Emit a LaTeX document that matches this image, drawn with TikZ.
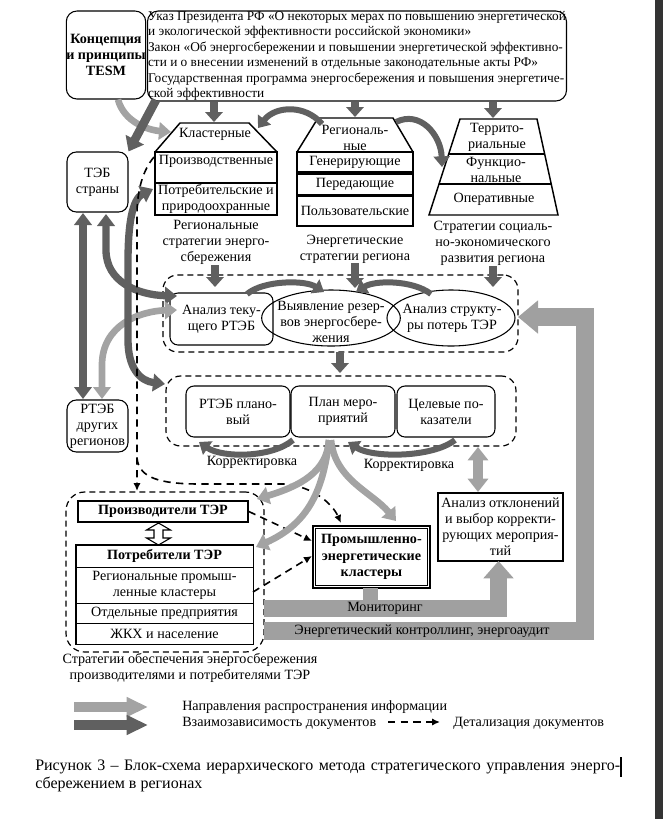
\documentclass[tikz,border=0pt]{standalone}
\usepackage{fontspec}
\setmainfont{Liberation Serif}
\usetikzlibrary{arrows.meta,shapes.geometric}
\definecolor{dg}{RGB}{96,96,96}
\definecolor{lg}{RGB}{163,163,163}
\definecolor{bandc}{RGB}{160,160,160}
\definecolor{stripc}{RGB}{51,51,51}
\begin{document}
\begin{tikzpicture}[x=0.75pt,y=-0.75pt,
  every node/.style={font=\fontsize{10.6}{12}\selectfont, inner sep=0pt, align=center},
  bf/.style={font=\fontsize{10.6}{12}\selectfont\bfseries},
  wh/.style 2 args={minimum width=#1*0.75pt, minimum height=#2*0.75pt},
  rbox/.style={draw, rounded corners=6pt, line width=0.8pt},
  sbox/.style={draw, line width=1.2pt},
  thinbox/.style={draw, line width=0.6pt},
  grp/.style={draw, rounded corners=11pt, line width=0.9pt, dash pattern=on 4.5pt off 3pt},
  outline/.style={draw, line width=1.1pt, line join=miter},
  darr/.style={draw=dg, line width=6pt, -{Triangle[length=7.5pt,width=13pt]}},
  darc/.style={draw=dg, line width=4.5pt, -{Triangle[length=8pt,width=12pt]}},
  dcurve/.style={draw=dg, line width=5.5pt, {Triangle[length=9pt,width=13pt]}-{Triangle[length=9pt,width=13pt]}},
  lcurve/.style={draw=lg, line width=5pt, -{Triangle[length=9pt,width=13pt]}},
  lcurve2/.style={draw=lg, line width=5pt, {Triangle[length=9pt,width=13pt]}-{Triangle[length=9pt,width=13pt]}},
  dasharr/.style={draw=black, line width=1.2pt, dash pattern=on 5.5pt off 4pt, -{Latex[length=6pt,width=5.5pt]}},
  legtxt/.style={anchor=west},
]
\useasboundingbox (0,0) rectangle (663,819);
\fill[stripc] (655,0) rectangle (663,819);

% ---------- top ----------
\node[rbox, wh={78}{88}, rounded corners=8pt, bf] (tesm) at (106,55) {Концепция\\и принципы\\TESM};
\node[rbox, wh={419}{90}, rounded corners=8pt, align=left, font=\fontsize{10}{11.65}\selectfont] (laws) at (357,56)
 {Указ Президента РФ «О некоторых мерах по повышению энергетической\\
  и экологической эффективности российской экономики»\\
  Закон «Об энергосбережении и повышении энергетической эффективно-\\
  сти и о внесении изменений в отдельные законодательные акты РФ»\\
  Государственная программа энергосбережения и повышения энергетиче-\\
  ской эффективности};

\node[rbox, wh={61}{60}, rounded corners=7pt] (tebc) at (97.5,182) {ТЭБ\\страны};
\node[rbox, wh={61}{52}, rounded corners=7pt] (rteb) at (97.5,426) {РТЭБ\\других\\регионов};

% Кластерные
\draw[outline] (155,152) -- (180,123) -- (249,123) -- (277,152);
\coordinate (kltop) at (214,122);
\node (klast) at (215,134) {Кластерные};
\node[sbox, wh={122}{31}] (prod) at (216,167.5) {Производственные\\\phantom{П}};
\node[sbox, wh={122}{32}] (potr) at (216,199) {Потребительские и\\природоохранные};
\node (klcap) at (216,242) {Региональные\\стратегии энерго-\\сбережения};

% Региональные
\draw[outline] (297,152) -- (318,118) -- (393,118) -- (413,152);
\coordinate (regtop) at (355,117);
\node (reg) at (355,138) {Региональ-\\ные};
\node[sbox, wh={116}{20}] (gen) at (355,162) {Генерирующие};
\node[sbox, wh={116}{21}] (per) at (355,184.5) {Передающие};
\node[sbox, wh={116}{30}] (pol) at (355,211) {Пользовательские};
\node (regcap) at (355,249) {Энергетические\\стратегии региона};

% Территориальные
\draw[outline] (429,215) -- (460,119) -- (537,119) -- (558,215) -- cycle;
\draw[line width=1.1pt] (448.7,154) -- (544.7,154);
\draw[line width=1.1pt] (439,184) -- (551.2,184);
\coordinate (tertop) at (493,118);
\node (ter) at (497,137) {Террито-\\риальные};
\node (fun) at (496,170) {Функцио-\\нальные};
\node (oper) at (494,199) {Оперативные};
\node (tercap) at (493,243) {Стратегии социаль-\\но-экономического\\развития региона};

% arrows top
\draw[darr] (laws.south -| kltop) -- (kltop);
\draw[darr] (laws.south -| regtop) -- (regtop);
\draw[darr] (laws.south -| tertop) -- (tertop);
\draw[lcurve] (tesm.south) ++(12,0) .. controls (124,122) and (148,130) .. (171,132);
\draw[draw=dg, line width=6.5pt, -{Triangle[length=10pt,width=15pt]}] (156,100) -- (tebc.north east);
\draw[darc] (322,124) .. controls (305,104) and (275,106) .. (258,128);
\draw[darc] (396,122) .. controls (420,110) and (441,135) .. (442,167);

% ---------- group 1 ----------
\node[grp, wh={355}{77}] (g1) at (340.5,313.5) {};
\coordinate (in1) at (215,287);
\coordinate (in2) at (355,288);
\coordinate (in3) at (493,287);
\draw[darr] (215,265) -- (in1);
\draw[darr] (355,263) -- (in2);
\draw[darr] (493,266) -- (in3);
\node[rbox, wh={103}{52}] (a1) at (221.5,319) {Анализ теку-\\щего РТЭБ};
\draw[line width=0.8pt] (331,318) ellipse [x radius=52pt, y radius=21pt];
\node (vy) at (331,322) {Выявление резер-\\вов энергосбере-\\жения};
\draw[line width=0.8pt] (451,318) ellipse [x radius=48pt, y radius=21pt];
\node (ast) at (452,318) {Анализ структу-\\ры потерь ТЭР};
\draw[darc] (247,294) .. controls (264,280) and (305,280) .. (324,292);
\draw[darc] (431,294) .. controls (413,280) and (375,280) .. (356,292);

% ---------- group 2 ----------
\node[grp, wh={350}{70}] (g2) at (341,411) {};
\draw[darr] (340,352) -- (340,373);
\node[rbox, wh={104}{51}] (b1) at (238,411.5) {РТЭБ плано-\\вый};
\node[rbox, wh={104}{51}] (b2) at (343,411.5) {План меро-\\приятий};
\node[rbox, wh={98}{51}] (b3) at (446,411.5) {Целевые по-\\казатели};
\draw[darc] (293,440) .. controls (272,458) and (222,458) .. (199,442);
\node (k1) at (252,462) {Корректировка};
\draw[darc] (455,440) .. controls (432,458) and (372,458) .. (348,442);
\node (k2) at (409,465) {Корректировка};

% ---------- left arrows ----------
\draw[dcurve] (83,213) -- (83,399);
\draw[dcurve] (106,214) -- (106,250) .. controls (106,282) and (138,295) .. (177,296);
\draw[lcurve2] (102,399) -- (102,365) .. controls (102,325) and (140,311) .. (177,310);
\draw[dcurve] (153,189) .. controls (132,199) and (128,225) .. (128,262) -- (128,340) .. controls (128,368) and (140,381) .. (165,384);
\draw[dasharr] (154,157) .. controls (143,170) and (137,190) .. (137,215) -- (137,491);
\draw[dasharr] (137,458) .. controls (139,478) and (160,484) .. (200,484) -- (285,484) .. controls (315,487) and (333,505) .. (341,523);

% ---------- group 3 ----------
\node[grp, wh={198}{160}, rounded corners=14pt] (g3) at (165,572) {};
\node[sbox, wh={170}{21}, bf] (prodT) at (163,511.5) {Производители ТЭР};
\draw[fill=white, line width=0.8pt] (158.5,523) -- (170.5,530) -- (163,530) -- (163,538) -- (170.5,538) -- (158.5,545) -- (146.5,538) -- (154,538) -- (154,530) -- (146.5,530) -- cycle;
\node[thinbox, wh={177}{22}, bf] (potT) at (164.5,556) {Потребители ТЭР};
\node[thinbox, wh={177}{36}] (rpk) at (164.5,585) {Региональные промыш-\\ленные кластеры};
\node[thinbox, wh={177}{20}] (otd) at (164.5,613) {Отдельные предприятия};
\node[thinbox, wh={177}{21}] (zhkh) at (164.5,633.5) {ЖКХ и население};
\draw[line width=1.3pt] (potT.north west) rectangle (zhkh.south east);
\node (g3cap) at (190,668) {Стратегии обеспечения энергосбережения\\производителями и потребителями ТЭР};

% ---------- bottom right ----------
\node[draw, line width=1.6pt, wh={117}{62}, font=\fontsize{10.6}{12.3}\selectfont\bfseries] (pek) at (371.5,557) {Промышленно-\\энергетические\\кластеры};
\draw[line width=0.7pt] ([xshift=3pt,yshift=3pt]pek.south west) rectangle ([xshift=-3pt,yshift=-3pt]pek.north east);
\node[sbox, wh={125}{68}, font=\fontsize{10.6}{12}\selectfont] (ao) at (500.5,527) {Анализ отклонений\\и выбор корректи-\\рующих мероприя-\\тий};

\draw[dasharr] (prodT.east) -- (312,541);
\draw[dasharr] (253,592) -- (312,556);

\draw[lcurve] (329,440) .. controls (327,472) and (300,486) .. (257,499);
\draw[lcurve] (329,440) .. controls (323,495) and (305,525) .. (256,547);
\draw[lcurve] (331,440) .. controls (335,480) and (372,492) .. (396,521);
\draw[draw=lg, line width=7pt, {Triangle[length=10pt,width=15pt]}-{Triangle[length=10pt,width=15pt]}] (478,447) -- (478,492);

% bands
\fill[bandc] (363,588) rectangle (378,601);
\draw[draw=bandc, line width=12.75pt, line join=miter, -{Triangle[length=13pt,width=22pt]}] (264,608.5) -- (498.5,608.5) -- (498.5,561);
\node (mon) at (385,608) {Мониторинг};
\draw[draw=bandc, line width=13.5pt, line join=miter, -{Triangle[length=15pt,width=24pt]}] (264,631) -- (585,631) -- (585,317) -- (518,317);
\node (ctrl) at (422,631) {Энергетический контроллинг, энергоаудит};

% ---------- legend ----------
\draw[draw=lg, line width=7.5pt, -{Triangle[length=16pt,width=14pt]}] (74,707) -- (148,707);
\node[legtxt] (lt1) at (182,707) {Направления распространения информации};
\draw[draw=dg, line width=7.5pt, -{Triangle[length=16pt,width=14pt]}] (74,725) -- (148,725);
\node[legtxt] (lt2) at (182,723) {Взаимозависимость документов};
\draw[dasharr] (388,722) -- (440,722);
\node[legtxt] (lt3) at (453,723) {Детализация документов};

% ---------- caption ----------
\node[anchor=north west, align=left, font=\fontsize{12}{13.5}\selectfont] (cap) at (35,760)
 {\makebox[438.75pt][s]{Рисунок 3 -- Блок-схема иерархического метода стратегического управления энерго-}\\сбережением в регионах};
\draw[line width=0.8pt] (621,757) -- (621,777);
\end{tikzpicture}
\end{document}
